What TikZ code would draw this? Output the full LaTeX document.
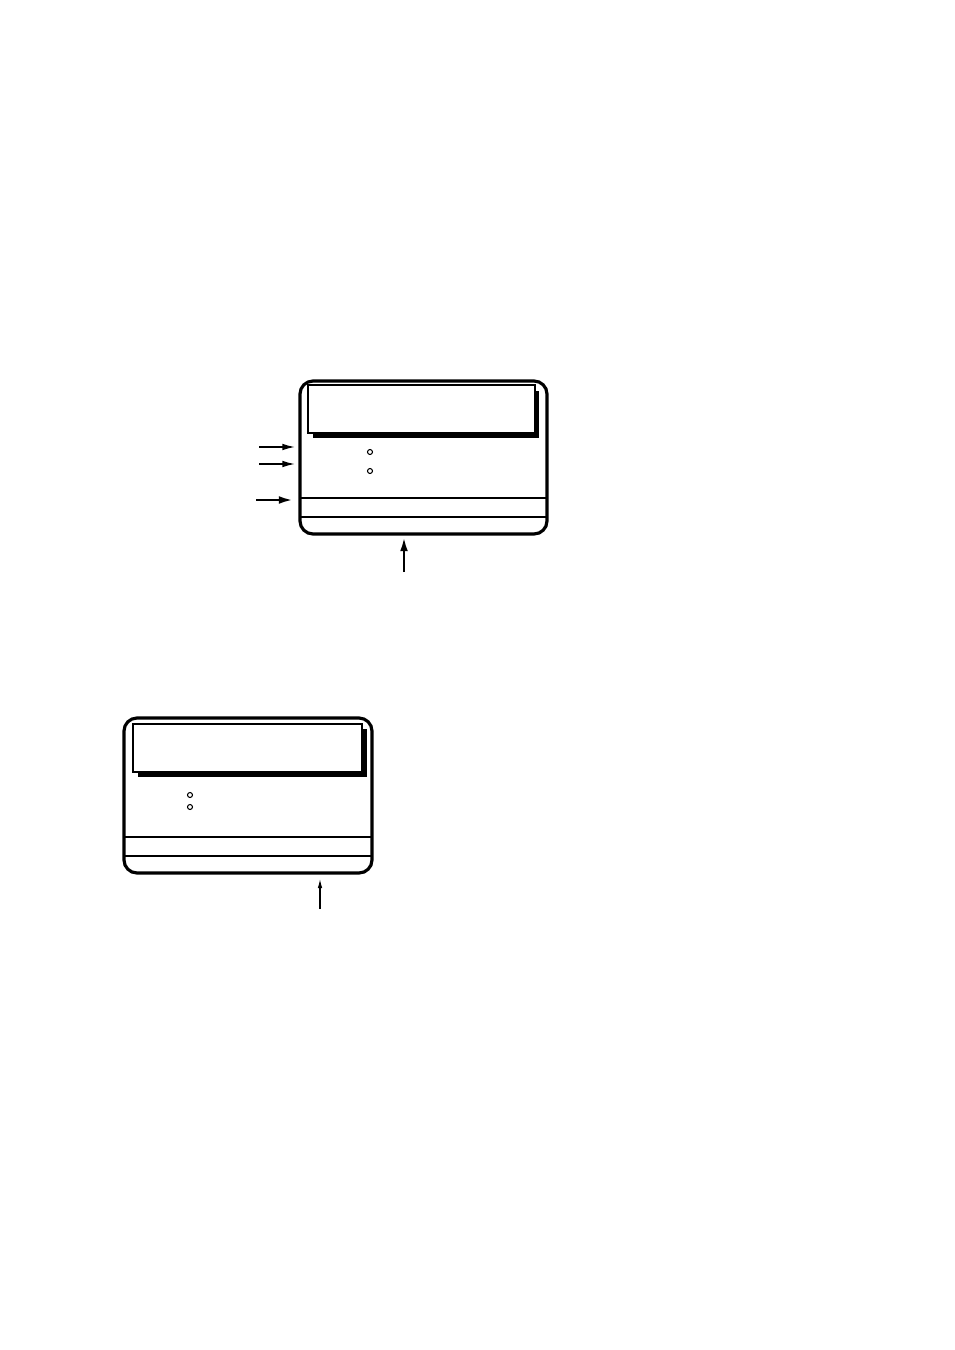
\documentclass[tikz,border=0pt]{standalone}
\usetikzlibrary{arrows.meta}

\tikzset{
  frame/.style={draw,line width=0.9pt,rounded corners=1.3mm},
  display/.style={draw,fill=white,line width=0.35pt},
  lamp/.style={circle,draw,line width=0.3pt,inner sep=0pt,minimum size=0.5mm},
  pointer/.style={-{Latex[length=3.6pt,width=1.9pt]},line width=0.4pt},
  bigpointer/.style={-{Latex[length=4pt,width=2.2pt]},line width=0.7pt},
}

\begin{document}
\begin{tikzpicture}[x=0.1mm,y=-0.1mm]
    \useasboundingbox (0,0) rectangle (954,1350);

    % Upper unit
    \draw[frame] (300,381) rectangle (547,534);
    \fill (313,391) rectangle (539,438);
    \draw[display] (308,385) rectangle (535,433);
    \draw[line width=0.6pt] (300,498) -- (547,498);
    \draw[line width=0.45pt] (300,517) -- (547,517);
    \path
    (370,452) node[lamp] (lampA1) {}
    (370,471) node[lamp] (lampA2) {}

    % Pointers
    (259,447) coordinate (tailA1) +(36,0) coordinate (tipA1)
    (259,464) coordinate (tailA2) +(36,0) coordinate (tipA2)
    (256,500) coordinate (tailA3) +(37,0) coordinate (tipA3)
    (404,572) coordinate (tailA4) +(0,-35) coordinate (tipA4);

    \draw[pointer] (tailA1)--(tipA1);
    \draw[pointer] (tailA2)--(tipA2);
    \draw[bigpointer] (tailA3)--(tipA3);
    \draw[bigpointer] (tailA4)--(tipA4);

    % Lower unit
    \draw[frame] (124,718) rectangle (372,873);
    \fill (138,729) rectangle (367,777);
    \draw[display] (133,724) rectangle (362,772);
    \draw[line width=0.4pt] (124,837) -- (372,837);
    \draw[line width=0.4pt] (124,856) -- (372,856);
    \path
    (190,795) node[lamp] (lampB1) {}
    (190,807) node[lamp] (lampB2) {}

    % Pointer
    (320,909) coordinate (tailB1) +(0,-30) coordinate (tipB1);

    \draw[-{Latex[length=2.6pt,width=1.3pt]},line width=0.3pt] (tailB1)--(tipB1);
\end{tikzpicture}
\end{document}
